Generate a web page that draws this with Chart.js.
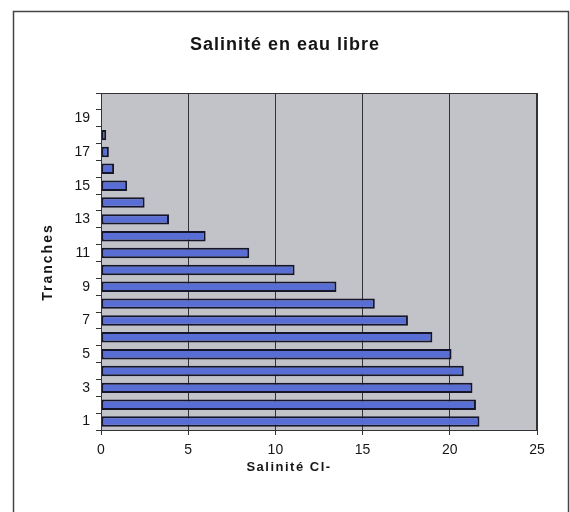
<!DOCTYPE html>
<html>
<head>
<meta charset="utf-8">
<script src="https://cdn.jsdelivr.net/npm/chart.js@4"></script>
<style>
  html, body { margin: 0; padding: 0; background: #fff; }
  #wrap { width: 570px; height: 512px; position: relative; }
</style>
</head>
<body>
<div id="wrap"><canvas id="chart"></canvas></div>
<script>
// Salinité par tranche (tranches 19 et 20 vides)
const tranches = ['1', '2', '3', '4', '5', '6', '7', '8', '9', '10',
  '11', '12', '13', '14', '15', '16', '17', '18', '19', '20'];
const salinite = [21.7, 21.5, 21.3, 20.8, 20.1, 19.0, 17.6, 15.7, 13.5, 11.1,
  8.5, 6.0, 3.9, 2.5, 1.5, 0.75, 0.45, 0.3, null, null];
const xTicks = [0, 5, 10, 15, 20, 25];

const chartTitle = 'Salinité en eau libre';
const xTitle = 'Salinité Cl-';
const yTitle = 'Tranches';

const FONT = "Arial, 'Liberation Sans', sans-serif";
const INK = '#151515';

// frame, plot background and the three titles
const decorations = {
  id: 'decorations',
  beforeDraw(chart) {
    const { ctx, chartArea: a } = chart;
    ctx.save();
    ctx.fillStyle = '#fff';
    ctx.fillRect(0, 0, chart.width, chart.height);
    ctx.strokeStyle = '#444';
    ctx.lineWidth = 1.5;
    ctx.strokeRect(13.5, 11.5, 555, 520);
    ctx.fillStyle = '#c2c2c9';
    ctx.fillRect(a.left, a.top, a.right - a.left, a.bottom - a.top);
    ctx.restore();
  },
  afterDraw(chart) {
    const { ctx, chartArea: a } = chart;
    ctx.save();
    ctx.strokeStyle = '#333';
    ctx.lineWidth = 1;
    ctx.strokeRect(a.left + 0.5, a.top + 0.5, a.right - a.left - 1, a.bottom - a.top);

    ctx.fillStyle = INK;
    ctx.textAlign = 'center';
    ctx.textBaseline = 'middle';
    ctx.letterSpacing = '1px';
    ctx.font = 'bold 18px ' + FONT;
    ctx.fillText(chartTitle, 285, 45);

    ctx.letterSpacing = '1.5px';
    ctx.font = 'bold 13px ' + FONT;
    ctx.fillText(xTitle, 289, 467);

    ctx.letterSpacing = '2px';
    ctx.font = 'bold 14px ' + FONT;
    ctx.translate(48, 262);
    ctx.rotate(-Math.PI / 2);
    ctx.fillText(yTitle, 0, 0);
    ctx.restore();
  }
};

new Chart(document.getElementById('chart'), {
  type: 'bar',
  data: {
    labels: tranches,
    datasets: [{
      data: salinite,
      backgroundColor: '#586ed4',
      borderColor: '#16162a',
      borderWidth: 2,
      borderSkipped: false,
      barPercentage: 0.62,
      categoryPercentage: 1,
    }]
  },
  options: {
    indexAxis: 'y',
    responsive: true,
    maintainAspectRatio: false,
    animation: false,
    layout: { padding: { left: 0, top: 93, right: 33, bottom: 52 } },
    scales: {
      x: {
        min: 0,
        max: 25,
        afterFit: (s) => { s.height = 30; },
        afterBuildTicks: (s) => { s.ticks = xTicks.map(v => ({ value: v })); },
        grid: { color: '#333', lineWidth: 1, tickLength: 5, drawOnChartArea: true },
        border: { display: true, color: '#333' },
        ticks: { color: INK, padding: 7, font: { family: FONT, size: 14 } },
      },
      y: {
        reverse: true,
        afterFit: (s) => { s.width = 101; },
        grid: { offset: true, drawOnChartArea: false, color: '#333', tickLength: 5 },
        border: { display: true, color: '#333' },
        ticks: {
          autoSkip: false,
          color: INK,
          padding: 6,
          font: { family: FONT, size: 14 },
          callback: (v, i) => (i % 2 === 0 ? tranches[i] : ''),
        },
      }
    },
    plugins: {
      legend: { display: false },
      tooltip: { enabled: false },
    }
  },
  plugins: [decorations]
});
</script>
</body>
</html>
